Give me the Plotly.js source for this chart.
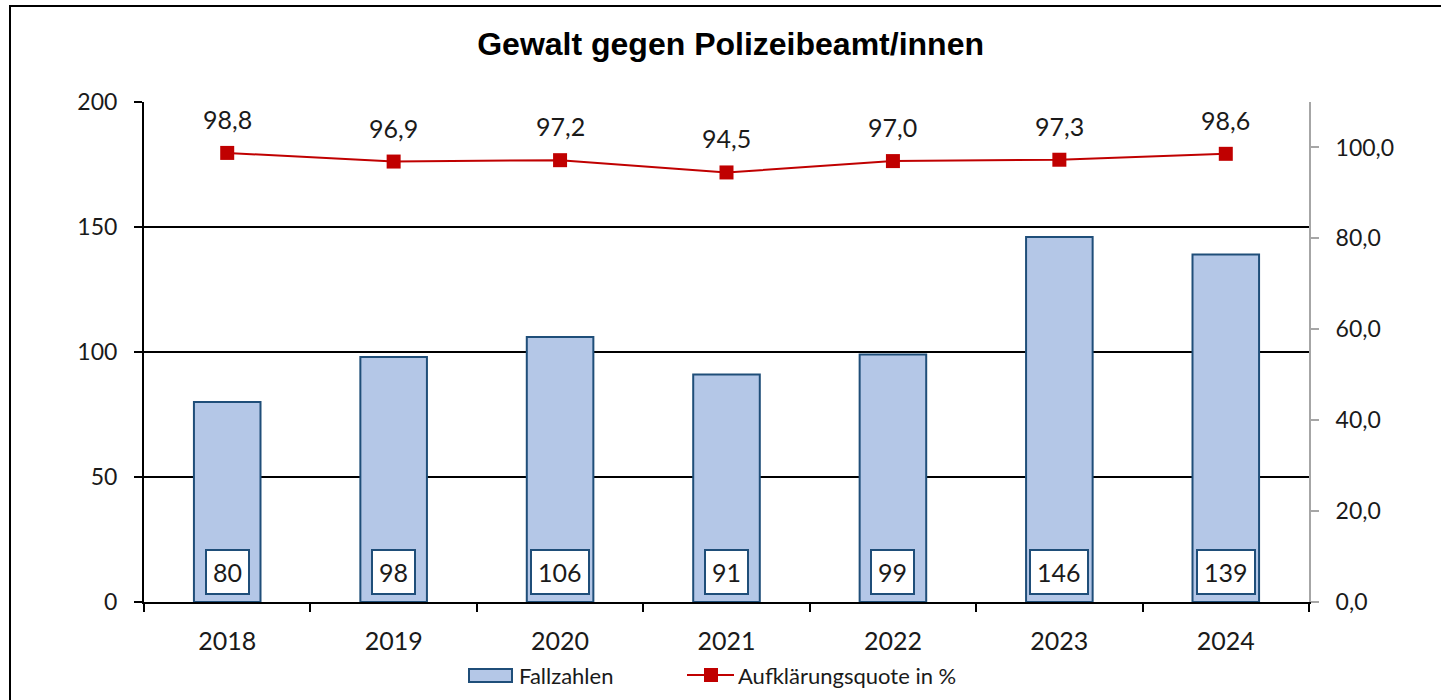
<!DOCTYPE html>
<html>
<head>
<meta charset="utf-8">
<script src="https://cdn.plot.ly/plotly-3.0.1.min.js"></script>
<style>
  html, body { margin: 0; padding: 0; background: #fff; overflow: hidden; }
  #wrap { position: relative; width: 1441px; height: 700px; }
  #chart { position: absolute; left: 0; top: 0; width: 1441px; height: 700px; }
  #frame { position: absolute; left: 9px; top: 5px; width: 1500px; height: 800px;
           border-left: 2px solid #000; border-top: 2px solid #000; pointer-events: none; }
</style>
</head>
<body>
<div id="wrap">
  <div id="chart"></div>
  <div id="frame"></div>
</div>
<script>
const years = ["2018", "2019", "2020", "2021", "2022", "2023", "2024"];
const fallzahlen = [80, 98, 106, 91, 99, 146, 139];
const quote = [98.8, 96.9, 97.2, 94.5, 97.0, 97.3, 98.6];
const chartTitle = "Gewalt gegen Polizeibeamt/innen";
const barName = "Fallzahlen";
const lineName = "Aufklärungsquote in %";

const FONT = "Lato, 'Open Sans', sans-serif";
const barFill = "#b4c7e7";
const barLine = "#1f4e79";
const red = "#c00000";

const fmt = v => v.toFixed(1).replace(".", ",");

const traces = [
  {
    type: "bar", name: barName, x: years, y: fallzahlen,
    width: 0.4,
    marker: { color: barFill, line: { color: barLine, width: 2 } },
    hoverinfo: "skip"
  },
  {
    type: "scatter", mode: "lines+markers", name: lineName, x: years, y: quote,
    yaxis: "y2",
    line: { color: red, width: 2 },
    marker: { symbol: "square", size: 14, color: red },
    hoverinfo: "skip"
  }
];

const annotations = [];
years.forEach((yr, i) => {
  annotations.push({
    x: i, y: 0, xref: "x", yref: "y", yanchor: "bottom", yshift: 7,
    text: String(fallzahlen[i]), showarrow: false,
    bgcolor: "#ffffff", bordercolor: barLine, borderwidth: 2, borderpad: 6,
    font: { family: FONT, size: 25, color: "#1a1a1a" }
  });
  annotations.push({
    x: i, y: quote[i], xref: "x", yref: "y2", yanchor: "middle", yshift: 34,
    text: fmt(quote[i]), showarrow: false,
    font: { family: FONT, size: 25, color: "#1a1a1a" }
  });
});

// Custom legend (paper coordinates; plot area spans x 144..1309, y 102..602 px)
const px = x => (x - 144) / 1165;
const py = y => (602 - y) / 500;
const legY = 675;
annotations.push({
  x: px(517), y: py(legY), xref: "paper", yref: "paper", xanchor: "left", yanchor: "middle",
  text: barName, showarrow: false, font: { family: FONT, size: 22, color: "#1a1a1a" }
});
annotations.push({
  x: px(736), y: py(legY), xref: "paper", yref: "paper", xanchor: "left", yanchor: "middle",
  text: lineName, showarrow: false, font: { family: FONT, size: 22, color: "#1a1a1a" }
});
const shapes = [
  { type: "rect", xref: "paper", yref: "paper", x0: px(469), x1: px(512), y0: py(682), y1: py(669),
    fillcolor: barFill, line: { color: barLine, width: 2 } },
  { type: "line", xref: "paper", yref: "paper", x0: px(687), x1: px(734), y0: py(legY), y1: py(legY),
    line: { color: red, width: 2 } },
  { type: "rect", xref: "paper", yref: "paper", x0: px(704), x1: px(718), y0: py(legY + 7), y1: py(legY - 7),
    fillcolor: red, line: { color: red, width: 0 } }
];

const layout = {
  width: 1441, height: 700,
  margin: { l: 144, r: 132, t: 102, b: 98, autoexpand: false },
  paper_bgcolor: "#ffffff", plot_bgcolor: "#ffffff",
  separators: ",.",
  title: {
    text: "<b>" + chartTitle + "</b>",
    font: { family: "'Liberation Sans', Arial, sans-serif", size: 32, color: "#000" },
    x: 0.507, xanchor: "center", y: 0.937, yanchor: "middle"
  },
  showlegend: false,
  xaxis: {
    type: "category", range: [-0.5, 6.5], autorange: false,
    showline: true, linecolor: "#000", linewidth: 2,
    ticks: "outside", tickson: "boundaries", ticklen: 8, tickwidth: 2, tickcolor: "#000",
    tickfont: { family: FONT, size: 25, color: "#1a1a1a" },
    tickangle: 0,
    ticklabelstandoff: 16,
    showgrid: false, fixedrange: true, automargin: false
  },
  yaxis: {
    range: [0, 200], dtick: 50, autorange: false,
    showline: true, linecolor: "#000", linewidth: 2,
    ticks: "outside", ticklen: 8, tickwidth: 2, tickcolor: "#000",
    showgrid: true, gridcolor: "#000", gridwidth: 2,
    zeroline: false,
    tickfont: { family: FONT, size: 23, color: "#1a1a1a" },
    ticklabelstandoff: 12,
    fixedrange: true, automargin: false
  },
  yaxis2: {
    overlaying: "y", side: "right",
    range: [0, 110], dtick: 20, tickformat: ".1f", autorange: false,
    showline: true, linecolor: "#a6a6a6", linewidth: 2,
    ticks: "outside", ticklen: 8, tickwidth: 2, tickcolor: "#a6a6a6",
    showgrid: false, zeroline: false,
    tickfont: { family: FONT, size: 23, color: "#1a1a1a" },
    ticklabelstandoff: 12,
    fixedrange: true, automargin: false
  },
  annotations: annotations,
  shapes: shapes
};

Plotly.newPlot("chart", traces, layout, { displayModeBar: false, staticPlot: true });
</script>
</body>
</html>
